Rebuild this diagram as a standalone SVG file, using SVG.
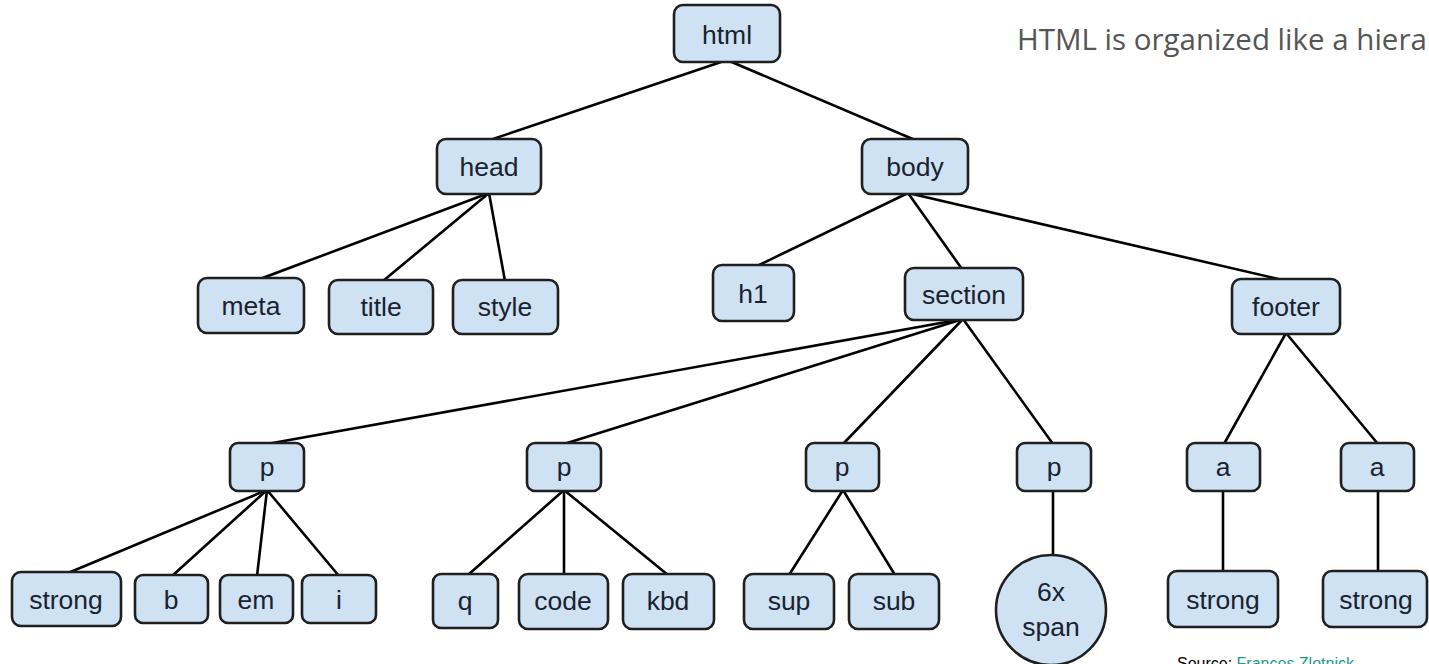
<svg xmlns="http://www.w3.org/2000/svg" width="1429" height="664" viewBox="0 0 1429 664">
<style>
.n rect, .n circle { fill: #cfe2f3; stroke: #1f1f1f; stroke-width: 2.6; }
.n text { font-family: "Liberation Sans", Arial, sans-serif; font-size: 26.5px; fill: #1a2230; text-anchor: middle; }
#edges line { stroke: #000; stroke-width: 2.6; stroke-linecap: round; }
.title { font-family: "Open Sans", "Noto Sans", sans-serif; font-size: 29.5px; fill: #555555; }
.src { font-family: "Liberation Sans", Arial, sans-serif; font-size: 16px; fill: #000; }
</style>
<rect width="1429" height="664" fill="#ffffff"/>
<g id="edges">
<line x1="727" y1="60" x2="490" y2="140"/>
<line x1="727" y1="60" x2="915" y2="140"/>
<line x1="489" y1="193" x2="252" y2="282"/>
<line x1="489" y1="193" x2="383" y2="281"/>
<line x1="489" y1="193" x2="505" y2="281"/>
<line x1="908" y1="193" x2="757" y2="266"/>
<line x1="908" y1="193" x2="962" y2="269"/>
<line x1="908" y1="193" x2="1287" y2="281"/>
<line x1="963" y1="319" x2="267" y2="444"/>
<line x1="963" y1="319" x2="564" y2="444"/>
<line x1="963" y1="319" x2="843" y2="444"/>
<line x1="963" y1="319" x2="1053" y2="444"/>
<line x1="1286" y1="333" x2="1224" y2="444"/>
<line x1="1286" y1="333" x2="1378" y2="444"/>
<line x1="267" y1="490" x2="68" y2="573"/>
<line x1="267" y1="490" x2="172" y2="576"/>
<line x1="267" y1="490" x2="257" y2="576"/>
<line x1="267" y1="490" x2="339" y2="576"/>
<line x1="564" y1="490" x2="468" y2="575"/>
<line x1="564" y1="490" x2="564" y2="575"/>
<line x1="564" y1="490" x2="668" y2="575"/>
<line x1="843" y1="490" x2="789" y2="575"/>
<line x1="843" y1="490" x2="895" y2="575"/>
<line x1="1053" y1="490" x2="1053" y2="556"/>
<line x1="1223" y1="490" x2="1223" y2="572"/>
<line x1="1378" y1="490" x2="1378" y2="572"/>
</g>
<g id="html" class="n"><rect x="674" y="5" width="106" height="57" rx="9"/><text x="727" y="44">html</text></g>
<g id="head" class="n"><rect x="437" y="139" width="104" height="55" rx="9"/><text x="489" y="176">head</text></g>
<g id="body" class="n"><rect x="862" y="139" width="106" height="55" rx="9"/><text x="915" y="176">body</text></g>
<g id="meta" class="n"><rect x="198" y="278" width="106" height="55" rx="9"/><text x="251" y="315">meta</text></g>
<g id="title" class="n"><rect x="329" y="280" width="104" height="54" rx="9"/><text x="381" y="316">title</text></g>
<g id="style" class="n"><rect x="453" y="280" width="105" height="54" rx="9"/><text x="505" y="316">style</text></g>
<g id="h1" class="n"><rect x="713" y="265" width="81" height="56" rx="9"/><text x="753" y="303">h1</text></g>
<g id="section" class="n"><rect x="905" y="268" width="118" height="52" rx="9"/><text x="964" y="304">section</text></g>
<g id="footer" class="n"><rect x="1232" y="279" width="108" height="55" rx="9"/><text x="1286" y="316">footer</text></g>
<g id="p1" class="n"><rect x="230" y="443" width="74" height="48" rx="8"/><text x="267" y="476">p</text></g>
<g id="p2" class="n"><rect x="527" y="443" width="74" height="48" rx="8"/><text x="564" y="476">p</text></g>
<g id="p3" class="n"><rect x="806" y="443" width="73" height="48" rx="8"/><text x="842" y="476">p</text></g>
<g id="p4" class="n"><rect x="1017" y="443" width="74" height="48" rx="8"/><text x="1054" y="476">p</text></g>
<g id="a1" class="n"><rect x="1187" y="443" width="73" height="48" rx="8"/><text x="1223" y="476">a</text></g>
<g id="a2" class="n"><rect x="1341" y="443" width="73" height="48" rx="8"/><text x="1377" y="476">a</text></g>
<g id="strong1" class="n"><rect x="12" y="572" width="109" height="54" rx="9"/><text x="66" y="609">strong</text></g>
<g id="b" class="n"><rect x="135" y="575" width="73" height="48" rx="8"/><text x="171" y="609">b</text></g>
<g id="em" class="n"><rect x="220" y="575" width="73" height="48" rx="8"/><text x="256" y="609">em</text></g>
<g id="i" class="n"><rect x="302" y="575" width="74" height="48" rx="8"/><text x="339" y="609">i</text></g>
<g id="q" class="n"><rect x="433" y="574" width="65" height="54" rx="8"/><text x="465" y="610">q</text></g>
<g id="code" class="n"><rect x="519" y="574" width="89" height="55" rx="9"/><text x="563" y="610">code</text></g>
<g id="kbd" class="n"><rect x="623" y="574" width="91" height="55" rx="9"/><text x="668" y="610">kbd</text></g>
<g id="sup" class="n"><rect x="744" y="574" width="90" height="55" rx="9"/><text x="789" y="610">sup</text></g>
<g id="sub" class="n"><rect x="849" y="574" width="90" height="55" rx="9"/><text x="894" y="610">sub</text></g>
<g id="span" class="n"><circle cx="1051" cy="610" r="55"/><text x="1051" y="601">6x</text><text x="1051" y="636">span</text></g>
<g id="strong2" class="n"><rect x="1168" y="571" width="110" height="56" rx="9"/><text x="1223" y="609">strong</text></g>
<g id="strong3" class="n"><rect x="1323" y="571" width="104" height="56" rx="9"/><text x="1376" y="609">strong</text></g>
<text class="title" x="1017" y="50">HTML is organized like a hierarchy</text>
<text class="src" x="1177" y="669">Source: <tspan fill="#1a9c8c">Frances Zlotnick</tspan></text>
</svg>
